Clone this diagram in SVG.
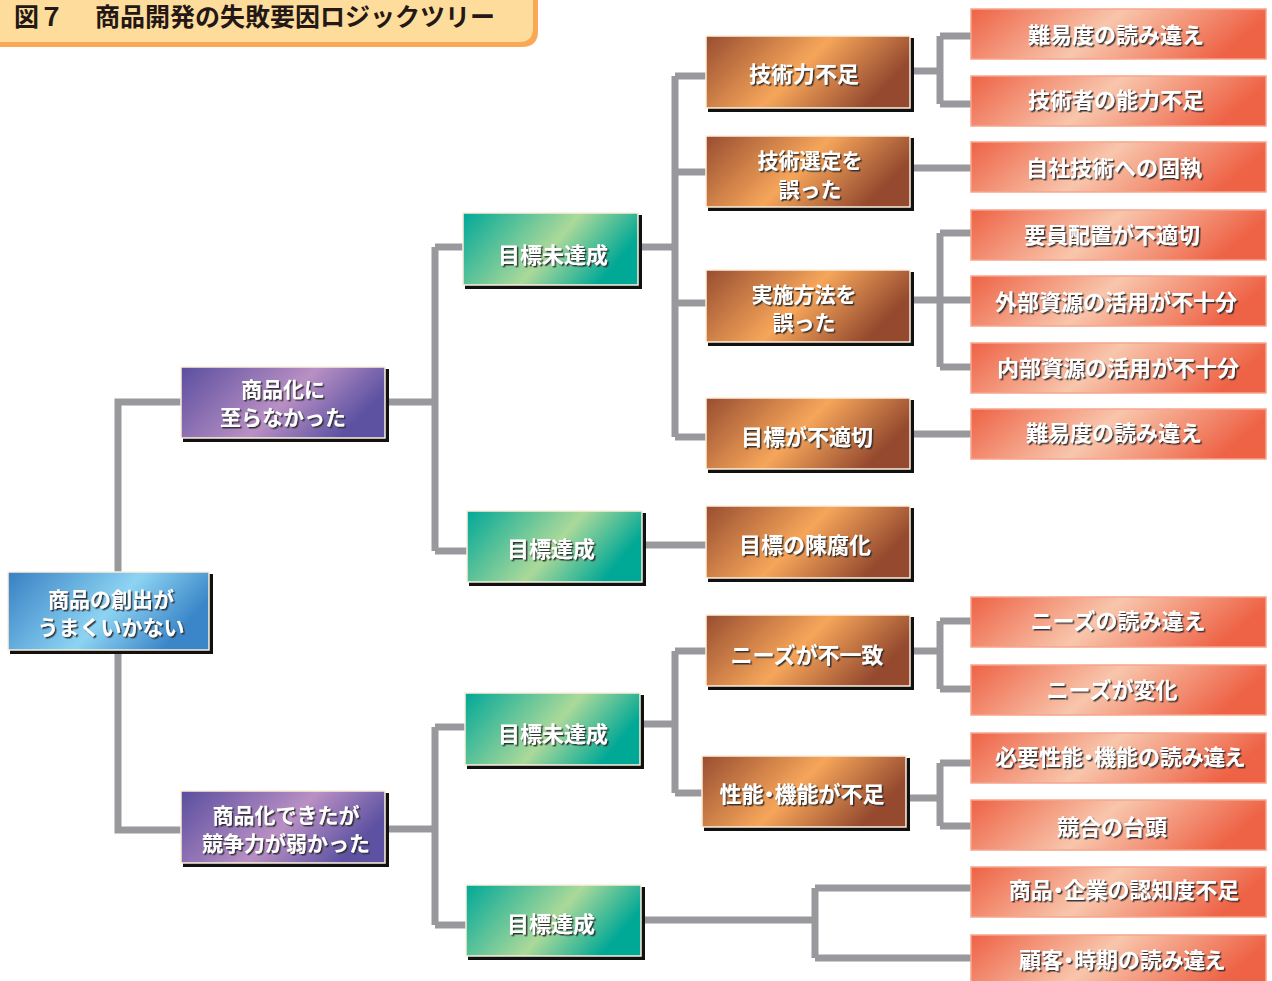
<svg xmlns="http://www.w3.org/2000/svg" width="1272" height="981" viewBox="0 0 1272 981">
<defs>
<linearGradient id="gBlue" x1="0" y1="0" x2="1" y2="0.35"><stop offset="0" stop-color="#3780c3"/><stop offset="0.6" stop-color="#8dd4f3"/><stop offset="1" stop-color="#3b86c8"/></linearGradient>
<linearGradient id="gPurple" x1="0" y1="0" x2="1" y2="0.35"><stop offset="0" stop-color="#5a4e9f"/><stop offset="0.6" stop-color="#b990c4"/><stop offset="1" stop-color="#5d52a2"/></linearGradient>
<linearGradient id="gTeal" x1="0" y1="0" x2="1" y2="0.35"><stop offset="0" stop-color="#00a898"/><stop offset="0.6" stop-color="#abd99a"/><stop offset="1" stop-color="#00a896"/></linearGradient>
<linearGradient id="gBrown" x1="0" y1="0" x2="1" y2="0.35"><stop offset="0" stop-color="#984d30"/><stop offset="0.55" stop-color="#f6a65a"/><stop offset="1" stop-color="#954a2f"/></linearGradient>
<linearGradient id="gOrange" x1="0" y1="0" x2="1" y2="0.2"><stop offset="0" stop-color="#ee6245"/><stop offset="0.5" stop-color="#f8c6ac"/><stop offset="1" stop-color="#ee6245"/></linearGradient>
<filter id="sh" x="-10%" y="-20%" width="130%" height="150%"><feDropShadow dx="1.5" dy="1.5" stdDeviation="0.6" flood-color="#2a2a2a" flood-opacity="0.9"/></filter>
</defs>
<style>
.t{font-family:"Noto Sans CJK JP","Noto Sans CJK SC",sans-serif;font-weight:700;font-size:22px;fill:#ffffff;text-anchor:middle;filter:url(#sh)}
.t2{font-size:21px}
.p{font-feature-settings:"palt"}
.sd{fill:#111}
.bx{stroke:#fdf0dc;stroke-width:1.5}
.ob{fill:url(#gOrange);stroke:#f8a58d;stroke-width:1.5}
.c{fill:none;stroke:#99999d;stroke-width:7}
.title{font-family:"Noto Sans CJK JP","Noto Sans CJK SC",sans-serif;font-weight:700;font-size:25px;fill:#231815}
</style>

<g id="title">
<path d="M0,0 H538 V31 Q538,47 522,47 H0 Z" fill="#f9a956"/>
<path d="M0,0 H533 V28 Q533,42 519,42 H0 Z" fill="#fedd9c"/>
<text class="title" x="14" y="26">図７</text>
<text class="title" x="95" y="26">商品開発の失敗要因ロジックツリー</text>
</g>

<g id="connectors">
<path class="c" d="M118,572 V402 H181 M118,652 V830 H181"/>
<path class="c" d="M387,402 H435 M435,247 V551 M435,247 H463 M435,551 H467"/>
<path class="c" d="M640,247 H675 M675,76 V437 M675,76 H706 M675,172 H706 M675,303 H706 M675,437 H706"/>
<path class="c" d="M912,71 H940 M940,36 V104 M940,36 H971 M940,104 H971"/>
<path class="c" d="M912,168 H971"/>
<path class="c" d="M912,300 H971 M940,233 V367 M940,233 H971 M940,367 H971"/>
<path class="c" d="M912,434 H971"/>
<path class="c" d="M644,545 H706"/>
<path class="c" d="M387,829 H435 M435,727 V925 M435,727 H465 M435,925 H466"/>
<path class="c" d="M642,724 H675 M675,651 V793 M675,651 H706 M675,793 H702"/>
<path class="c" d="M912,651 H940 M940,621 V689 M940,621 H971 M940,689 H971"/>
<path class="c" d="M908,798 H940 M940,763 V826 M940,763 H971 M940,826 H971"/>
<path class="c" d="M643,920 H815 M815,888 V958 M815,888 H971 M815,958 H971"/>
</g>

<g id="root">
<rect class="sd" x="10" y="574" width="203" height="80"/>
<rect class="bx" x="8" y="572" width="201" height="78" fill="url(#gBlue)"/>
<text class="t t2" x="111" y="607">商品の創出が</text>
<text class="t t2" x="111" y="635">うまくいかない</text>
</g>

<g id="p1">
<rect class="sd" x="183" y="369" width="206" height="73"/>
<rect class="bx" x="181" y="367" width="204" height="71" fill="url(#gPurple)"/>
<text class="t t2" x="283" y="397">商品化に</text>
<text class="t t2" x="283" y="425">至らなかった</text>
</g>
<g id="p2">
<rect class="sd" x="183" y="793" width="206" height="74"/>
<rect class="bx" x="181" y="791" width="204" height="72" fill="url(#gPurple)"/>
<text class="t t2" x="286" y="823">商品化できたが</text>
<text class="t t2" x="286" y="851">競争力が弱かった</text>
</g>

<g id="t1">
<rect class="sd" x="465" y="215" width="177" height="74"/>
<rect class="bx" x="463" y="213" width="175" height="72" fill="url(#gTeal)"/>
<text class="t" x="553" y="263">目標未達成</text>
</g>
<g id="t2">
<rect class="sd" x="469" y="513" width="177" height="73"/>
<rect class="bx" x="467" y="511" width="175" height="71" fill="url(#gTeal)"/>
<text class="t" x="551" y="557">目標達成</text>
</g>
<g id="t3">
<rect class="sd" x="467" y="695" width="177" height="74"/>
<rect class="bx" x="465" y="693" width="175" height="72" fill="url(#gTeal)"/>
<text class="t" x="553" y="742">目標未達成</text>
</g>
<g id="t4">
<rect class="sd" x="468" y="887" width="177" height="73"/>
<rect class="bx" x="466" y="885" width="175" height="71" fill="url(#gTeal)"/>
<text class="t" x="551" y="932">目標達成</text>
</g>

<g id="b1">
<rect class="sd" x="708" y="38" width="206" height="74"/>
<rect class="bx" x="706" y="36" width="204" height="72" fill="url(#gBrown)"/>
<text class="t" x="804" y="82">技術力不足</text>
</g>
<g id="b2">
<rect class="sd" x="708" y="138" width="206" height="73"/>
<rect class="bx" x="706" y="136" width="204" height="71" fill="url(#gBrown)"/>
<text class="t t2" x="810" y="168">技術選定を</text>
<text class="t t2" x="810" y="197">誤った</text>
</g>
<g id="b3">
<rect class="sd" x="708" y="272" width="206" height="74"/>
<rect class="bx" x="706" y="270" width="204" height="72" fill="url(#gBrown)"/>
<text class="t t2" x="804" y="302">実施方法を</text>
<text class="t t2" x="804" y="330">誤った</text>
</g>
<g id="b4">
<rect class="sd" x="708" y="400" width="206" height="73"/>
<rect class="bx" x="706" y="398" width="204" height="71" fill="url(#gBrown)"/>
<text class="t" x="807" y="445">目標が不適切</text>
</g>
<g id="b5">
<rect class="sd" x="708" y="508" width="206" height="74"/>
<rect class="bx" x="706" y="506" width="204" height="72" fill="url(#gBrown)"/>
<text class="t" x="805" y="553">目標の陳腐化</text>
</g>
<g id="b6">
<rect class="sd" x="708" y="617" width="206" height="73"/>
<rect class="bx" x="706" y="615" width="204" height="71" fill="url(#gBrown)"/>
<text class="t" x="807" y="663">ニーズが不一致</text>
</g>
<g id="b7">
<rect class="sd" x="704" y="758" width="206" height="73"/>
<rect class="bx" x="702" y="756" width="204" height="71" fill="url(#gBrown)"/>
<text class="t p" x="802" y="802">性能・機能が不足</text>
</g>

<g id="o1"><rect class="ob" x="971" y="9" width="295" height="50"/><text class="t" x="1116" y="43">難易度の読み違え</text></g>
<g id="o2"><rect class="ob" x="971" y="76" width="295" height="50"/><text class="t" x="1116" y="108">技術者の能力不足</text></g>
<g id="o3"><rect class="ob" x="971" y="142" width="295" height="50"/><text class="t" x="1114" y="176">自社技術への固執</text></g>
<g id="o4"><rect class="ob" x="971" y="210" width="295" height="50"/><text class="t" x="1112" y="243">要員配置が不適切</text></g>
<g id="o5"><rect class="ob" x="971" y="276" width="295" height="50"/><text class="t" x="1116" y="310">外部資源の活用が不十分</text></g>
<g id="o6"><rect class="ob" x="971" y="343" width="295" height="50"/><text class="t" x="1118" y="376">内部資源の活用が不十分</text></g>
<g id="o7"><rect class="ob" x="971" y="409" width="295" height="50"/><text class="t" x="1114" y="441">難易度の読み違え</text></g>
<g id="o8"><rect class="ob" x="971" y="597" width="295" height="50"/><text class="t" x="1118" y="629">ニーズの読み違え</text></g>
<g id="o9"><rect class="ob" x="971" y="665" width="295" height="50"/><text class="t" x="1112" y="698">ニーズが変化</text></g>
<g id="o10"><rect class="ob" x="971" y="733" width="295" height="50"/><text class="t p" x="1120" y="765">必要性能・機能の読み違え</text></g>
<g id="o11"><rect class="ob" x="971" y="800" width="295" height="50"/><text class="t" x="1112" y="835">競合の台頭</text></g>
<g id="o12"><rect class="ob" x="971" y="867" width="295" height="50"/><text class="t p" x="1124" y="898">商品・企業の認知度不足</text></g>
<g id="o13"><rect class="ob" x="971" y="935" width="295" height="50"/><text class="t p" x="1122" y="968">顧客・時期の読み違え</text></g>
</svg>
